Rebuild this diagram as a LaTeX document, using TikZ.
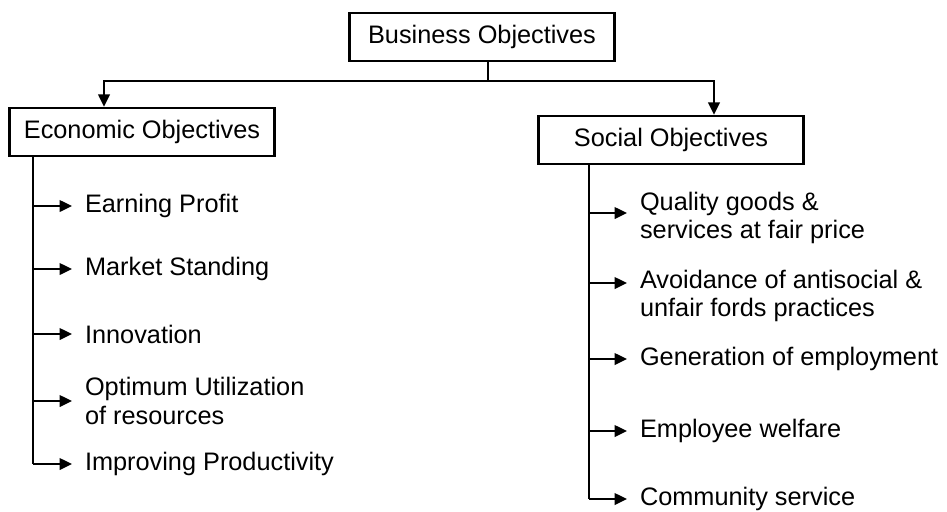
\documentclass[tikz,border=0pt]{standalone}
\usepackage{fontspec}
\setmainfont{Liberation Sans}
\usetikzlibrary{arrows.meta}

\begin{document}
\begin{tikzpicture}[x=0.02cm,y=-0.02cm,font=\fontsize{14.4}{16}\selectfont,line width=1.2pt]
\tikzset{
% Boxes for the objectives, plain text for the list entries
box/.style={draw,line width=1.4pt,minimum width=5.3cm,minimum height=0.96cm,inner sep=2pt},
item/.style={anchor=west,align=left,inner xsep=0.24cm,inner ysep=0pt},
arr/.style={-{Triangle[length=7pt,width=6.5pt]}}
}
\useasboundingbox (0,0) rectangle (947,511);

% The boxes
\node(biz)[box] at (482,37){Business Objectives};
\node(eco)[box] at (142,132){Economic Objectives};
\node(soc)[box] at (671,140){Social Objectives};

\draw ([xshift=0.12cm]biz.south) -- ++(0,19) coordinate(hub);
\draw[arr] (hub) -| ([xshift=-0.76cm]eco.north);
\draw[arr] (hub) -| ([xshift=0.86cm]soc.north);

% Economic objectives
\node(e1)[item] at (72,206){Earning Profit};
\node(e2)[item] at (72,269){Market Standing};
\node(e3)[item] at (72,334){Innovation};
\node(e4)[item] at (72,401){Optimum Utilization\\of resources};
\node(e5)[item] at (72,464){Improving Productivity};

\coordinate(et) at ([xshift=0.5cm]eco.south west);
\draw (et) -- (et |- e5.west);
\foreach \n in {e1,e2,e3,e4,e5}
  \draw[arr] (et |- \n.west) -- (\n.west);

% Social objectives
\node(s1)[item] at (627,218){Quality goods \&\\services at fair price};
\node(s2)[item] at (627,296){Avoidance of antisocial \&\\unfair fords practices};
\node(s3)[item] at (627,359){Generation of employment};
\node(s4)[item] at (627,431){Employee welfare};
\node(s5)[item] at (627,499){Community service};

\coordinate(st) at ([xshift=1.04cm]soc.south west);
\draw (st) -- (st |- s5.west);
\foreach \n/\d in {s1/0.1,s2/0.26,s3/0,s4/0,s5/0}
  \draw[arr] ([yshift=\d cm]st |- \n.west) -- ([yshift=\d cm]\n.west);

\end{tikzpicture}
\end{document}
